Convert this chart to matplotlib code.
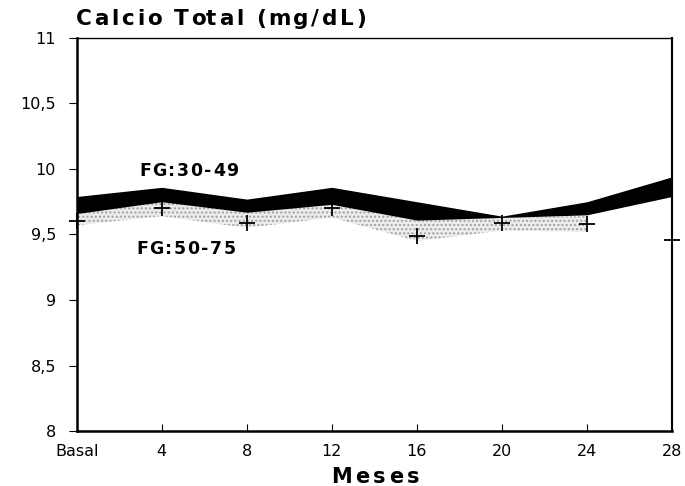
"""
Calcio total por grupo de filtrado glomerular a lo largo de 28 meses.
"""

from matplotlib import pyplot as plt
from matplotlib.font_manager import FontProperties


# Meses de seguimiento (0 = basal)
MONTHS = [0, 4, 8, 12, 16, 20, 24, 28]
MONTH_LABELS = ["Basal", "4", "8", "12", "16", "20", "24", "28"]

# FG:30-49, banda negra (borde superior e inferior)
FG30_UPPER = [9.79, 9.86, 9.77, 9.86, 9.75, 9.64, 9.75, 9.94]
FG30_LOWER = [9.66, 9.75, 9.67, 9.73, 9.61, 9.63, 9.65, 9.79]

# FG:50-75, banda gris punteada y marcas "+"
FG50_MONTHS = [0, 4, 8, 12, 16, 20, 24]
FG50_UPPER = [9.66, 9.75, 9.67, 9.73, 9.62, 9.63, 9.64]
FG50_LOWER = [9.57, 9.64, 9.55, 9.63, 9.45, 9.53, 9.52]
FG50_MEAN = [9.60, 9.70, 9.59, 9.70, 9.49, 9.59, 9.58, 9.46]

Y_TICKS = [8, 8.5, 9, 9.5, 10, 10.5, 11]
Y_TICK_LABELS = ["8", "8,5", "9", "9,5", "10", "10,5", "11"]

FIG_W, FIG_H, DPI = 6.85, 4.86, 100


plt.rcParams['font.family'] = ['DejaVu Sans']
plt.rcParams['hatch.linewidth'] = 1.0

fig = plt.figure(figsize=(FIG_W, FIG_H), dpi=DPI)
ax = fig.add_axes([0.112, 0.113, 0.869, 0.809])
renderer = fig.canvas.get_renderer()


def text_advance(s, size):
    """Pixel advance of a string, measured against a trailing marker so spaces count."""
    prop = FontProperties(family="DejaVu Sans", weight="bold", size=size)
    w_full, _, _ = renderer.get_text_width_height_descent(s + "x", prop, ismath=False)
    w_x, _, _ = renderer.get_text_width_height_descent("x", prop, ismath=False)
    return w_full - w_x


def spaced_text(x_px, y_px, text, size, tracking_px):
    """Bold text with extra letter spacing (pixel coords from top-left, y is the baseline)."""
    for i, ch in enumerate(text):
        if ch == " ":
            continue
        x = x_px + text_advance(text[:i], size) + i * tracking_px
        fig.text(x / (FIG_W * DPI), 1 - y_px / (FIG_H * DPI), ch,
                 fontsize=size, fontweight="bold", va="baseline", ha="left")


ax.fill_between(FG50_MONTHS, FG50_LOWER, FG50_UPPER, facecolor="#ececec",
                edgecolor="#a0a0a0", hatch="....", linewidth=0, zorder=1)
ax.fill_between(MONTHS, FG30_LOWER, FG30_UPPER, color="black", linewidth=0, zorder=2)
ax.plot(MONTHS, FG50_MEAN, linestyle="none", marker="+", markersize=11,
        markeredgewidth=1.3, color="black", zorder=3, clip_on=False)

ax.set_xlim(0, 28)
ax.set_ylim(8, 11)
ax.set_xticks(MONTHS)
ax.set_xticklabels(MONTH_LABELS, fontsize=11.5)
ax.set_yticks(Y_TICKS)
ax.set_yticklabels(Y_TICK_LABELS, fontsize=11.5)
ax.tick_params(axis="x", direction="in", length=5, pad=9)
ax.tick_params(axis="y", direction="out", length=6, pad=9)

ax.spines["left"].set_linewidth(1.8)
ax.spines["bottom"].set_linewidth(1.8)
ax.spines["top"].set_linewidth(1.0)
ax.spines["right"].set_linewidth(1.5)

spaced_text(76, 25, "Calcio Total (mg/dL)", 15.5, 2.6)
spaced_text(139, 176, "FG:30-49", 12.5, 1.5)
spaced_text(136, 254, "FG:50-75", 12.5, 1.5)
spaced_text(331, 483, "Meses", 15, 3.5)

fig.savefig("out.png", dpi=DPI)
